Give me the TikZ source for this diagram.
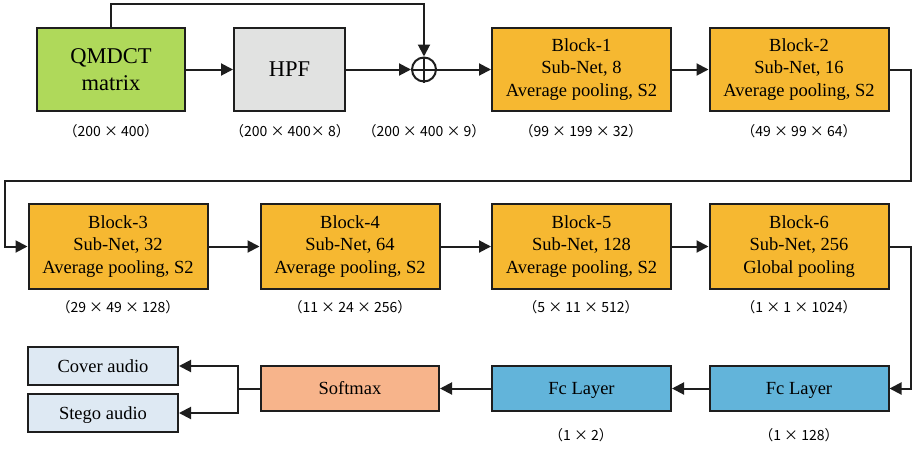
\documentclass[tikz,border=0pt]{standalone}
\usepackage{fontspec}
\setmainfont{Liberation Serif}
\newfontfamily\cjk{Noto Sans CJK SC}
\usetikzlibrary{arrows.meta}

\definecolor{qmc}{HTML}{AFD95A}
\definecolor{hpfc}{HTML}{E1E2E1}
\definecolor{blockc}{HTML}{F6B831}
\definecolor{fcc}{HTML}{62B4DA}
\definecolor{smc}{HTML}{F7B48B}
\definecolor{audc}{HTML}{DEE9F3}
\definecolor{edge}{HTML}{1E1E1E}

\begin{document}
\begin{tikzpicture}[x=1pt,y=-1pt,
  box/.style={draw=edge, line width=2pt, inner sep=0pt, align=center,
    font=\fontsize{18.5}{22.5}\selectfont},
  onebox/.style={box, text height=12.4pt, text depth=0pt},
  bigbox/.style={box, minimum height=83pt, font=\fontsize{22.5}{27}\selectfont},
  blockbox/.style={box, fill=blockc, minimum width=179pt},
  fcbox/.style={onebox, fill=fcc, minimum width=179pt, minimum height=45pt},
  audbox/.style={onebox, fill=audc, minimum width=150pt, minimum height=38pt},
  dim/.style={font=\cjk\fontsize{14}{16}\selectfont},
  conn/.style={draw=edge, line width=2pt, -{Triangle[length=12pt,width=12pt]}},
  plain/.style={draw=edge, line width=2pt}]
\useasboundingbox (0,0) rectangle (913,448);

% row 1
\node[bigbox, fill=qmc, minimum width=148pt] (q) at (111,69.5) {QMDCT\\matrix};
\node[bigbox, fill=hpfc, minimum width=111pt] (h) at (289.5,69.5) {HPF};
\node[circle, draw=edge, line width=2pt, minimum size=24pt, inner sep=0pt] (sum) at (424,69.5) {};
\draw[plain] (sum.north) -- (sum.south) (sum.west) -- (sum.east);
\node[blockbox, minimum height=83pt] (b1) at (581.5,69.5) {Block-1\\Sub-Net, 8\\Average pooling, S2};
\node[blockbox, minimum height=83pt] (b2) at (799,69.5) {Block-2\\Sub-Net, 16\\Average pooling, S2};

% row 2
\node[blockbox, minimum height=85pt] (b3) at (118,246.5) {Block-3\\Sub-Net, 32\\Average pooling, S2};
\node[blockbox, minimum height=85pt] (b4) at (350,246.5) {Block-4\\Sub-Net, 64\\Average pooling, S2};
\node[blockbox, minimum height=85pt] (b5) at (581.5,246.5) {Block-5\\Sub-Net, 128\\Average pooling, S2};
\node[blockbox, minimum height=85pt] (b6) at (799,246.5) {Block-6\\Sub-Net, 256\\Global pooling};

% row 3
\node[fcbox] (fc2) at (799,388.5) {Fc Layer};
\node[fcbox] (fc1) at (581.5,388.5) {Fc Layer};
\node[onebox, fill=smc, minimum width=178pt, minimum height=45pt] (sm) at (350,388.5) {Softmax};
\node[audbox] (cover) at (103,366) {Cover audio};
\node[audbox] (stego) at (103,413) {Stego audio};

% tensor sizes
\node[dim] (d1) at (111,131) {（200 × 400）};
\node[dim] (d2) at (290,131) {（200 × 400× 8）};
\node[dim] (d3) at (424,131) {（200 × 400 × 9）};
\node[dim] (d4) at (581,131) {（99 × 199 × 32）};
\node[dim] (d5) at (799,131) {（49 × 99 × 64）};
\node[dim] (d6) at (118,307) {（29 × 49 × 128）};
\node[dim] (d7) at (350,307) {（11 × 24 × 256）};
\node[dim] (d8) at (581,307) {（5 × 11 × 512）};
\node[dim] (d9) at (799,307) {（1 × 1 × 1024）};
\node[dim] (d10) at (581,435) {（1 × 2）};
\node[dim] (d11) at (799,435) {（1 × 128）};

% routing points
\coordinate (top) at (111,4);
\coordinate (r1) at (911,181);
\coordinate (l1) at (5,181);
\coordinate (r2) at (911,388.5);
\coordinate (split) at (238,388.5);

% connectors
\draw[conn] (q.east) -- (h.west);
\draw[conn] (h.east) -- (sum.west);
\draw[conn] (q.north) -- (top) -| (sum.north);
\draw[conn] (sum.east) -- (b1.west);
\draw[conn] (b1) -- (b2);
\draw[conn] (b2.east) -| (r1) -- (l1) |- (b3.west);
\draw[conn] (b3) -- (b4);
\draw[conn] (b4) -- (b5);
\draw[conn] (b5) -- (b6);
\draw[conn] (b6.east) -| (r2) -- (fc2.east);
\draw[conn] (fc2) -- (fc1);
\draw[conn] (fc1) -- (sm);
\draw[plain] (sm.west) -- (split);
\draw[conn] (split) |- (cover.east);
\draw[conn] (split) |- (stego.east);
\end{tikzpicture}
\end{document}
